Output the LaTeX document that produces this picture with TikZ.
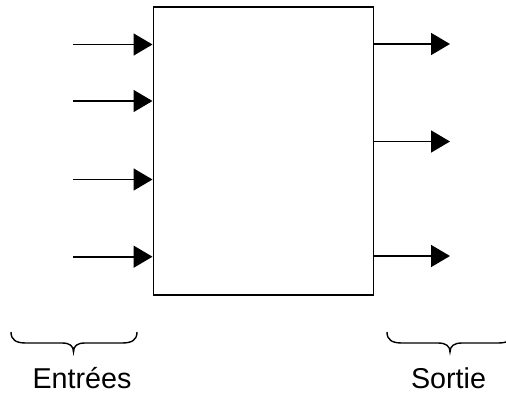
\documentclass[tikz,border=0pt]{standalone}
\usepackage{fontspec}
\setmainfont{Liberation Sans}
\usetikzlibrary{arrows.meta}
\begin{document}
\begin{tikzpicture}[x=1pt,y=-1pt,
  conn/.style={line width=1.6pt,-{Triangle[length=19pt,width=22pt]}},
  bracepath/.style={line width=1.4pt},
  lbl/.style={font=\fontsize{28.7}{30}\selectfont,anchor=base,inner sep=0pt}]
\useasboundingbox (0,0) rectangle (506,396);
\node[draw,line width=1.6pt,minimum width=220pt,minimum height=288pt,inner sep=0pt,anchor=north west] (box) at (152.5,6) {};
% inputs
\foreach \y/\n in {44.5/i1,101/i2,179.5/i3,256.7/i4}{
  \coordinate (\n) at (73,\y);
  \draw[conn] (\n) -- (box.west |- \n);
}
% outputs
\foreach \y/\n in {44/o1,141.5/o2,256/o3}{
  \coordinate (\n) at (450,\y);
  \draw[conn] (box.east |- \n) -- (\n);
}
% braces
\draw[bracepath] (11,332) .. controls (11,340) and (16,343) .. (26,343) -- (62,343)
  .. controls (70,343) and (73.5,346) .. (73.5,352)
  .. controls (73.5,346) and (77,343) .. (85,343) -- (122,343)
  .. controls (132,343) and (137,340) .. (137,332);
\draw[bracepath] (387,332) .. controls (387,340) and (392,343) .. (402,343) -- (438,343)
  .. controls (446,343) and (450,346) .. (450,352)
  .. controls (450,346) and (454,343) .. (462,343) -- (498,343)
  .. controls (508,343) and (513,340) .. (513,332);
\node[lbl] (ent) at (82,388) {Entrées};
\node[lbl] (sor) at (448.5,388) {Sortie};
\end{tikzpicture}
\end{document}
